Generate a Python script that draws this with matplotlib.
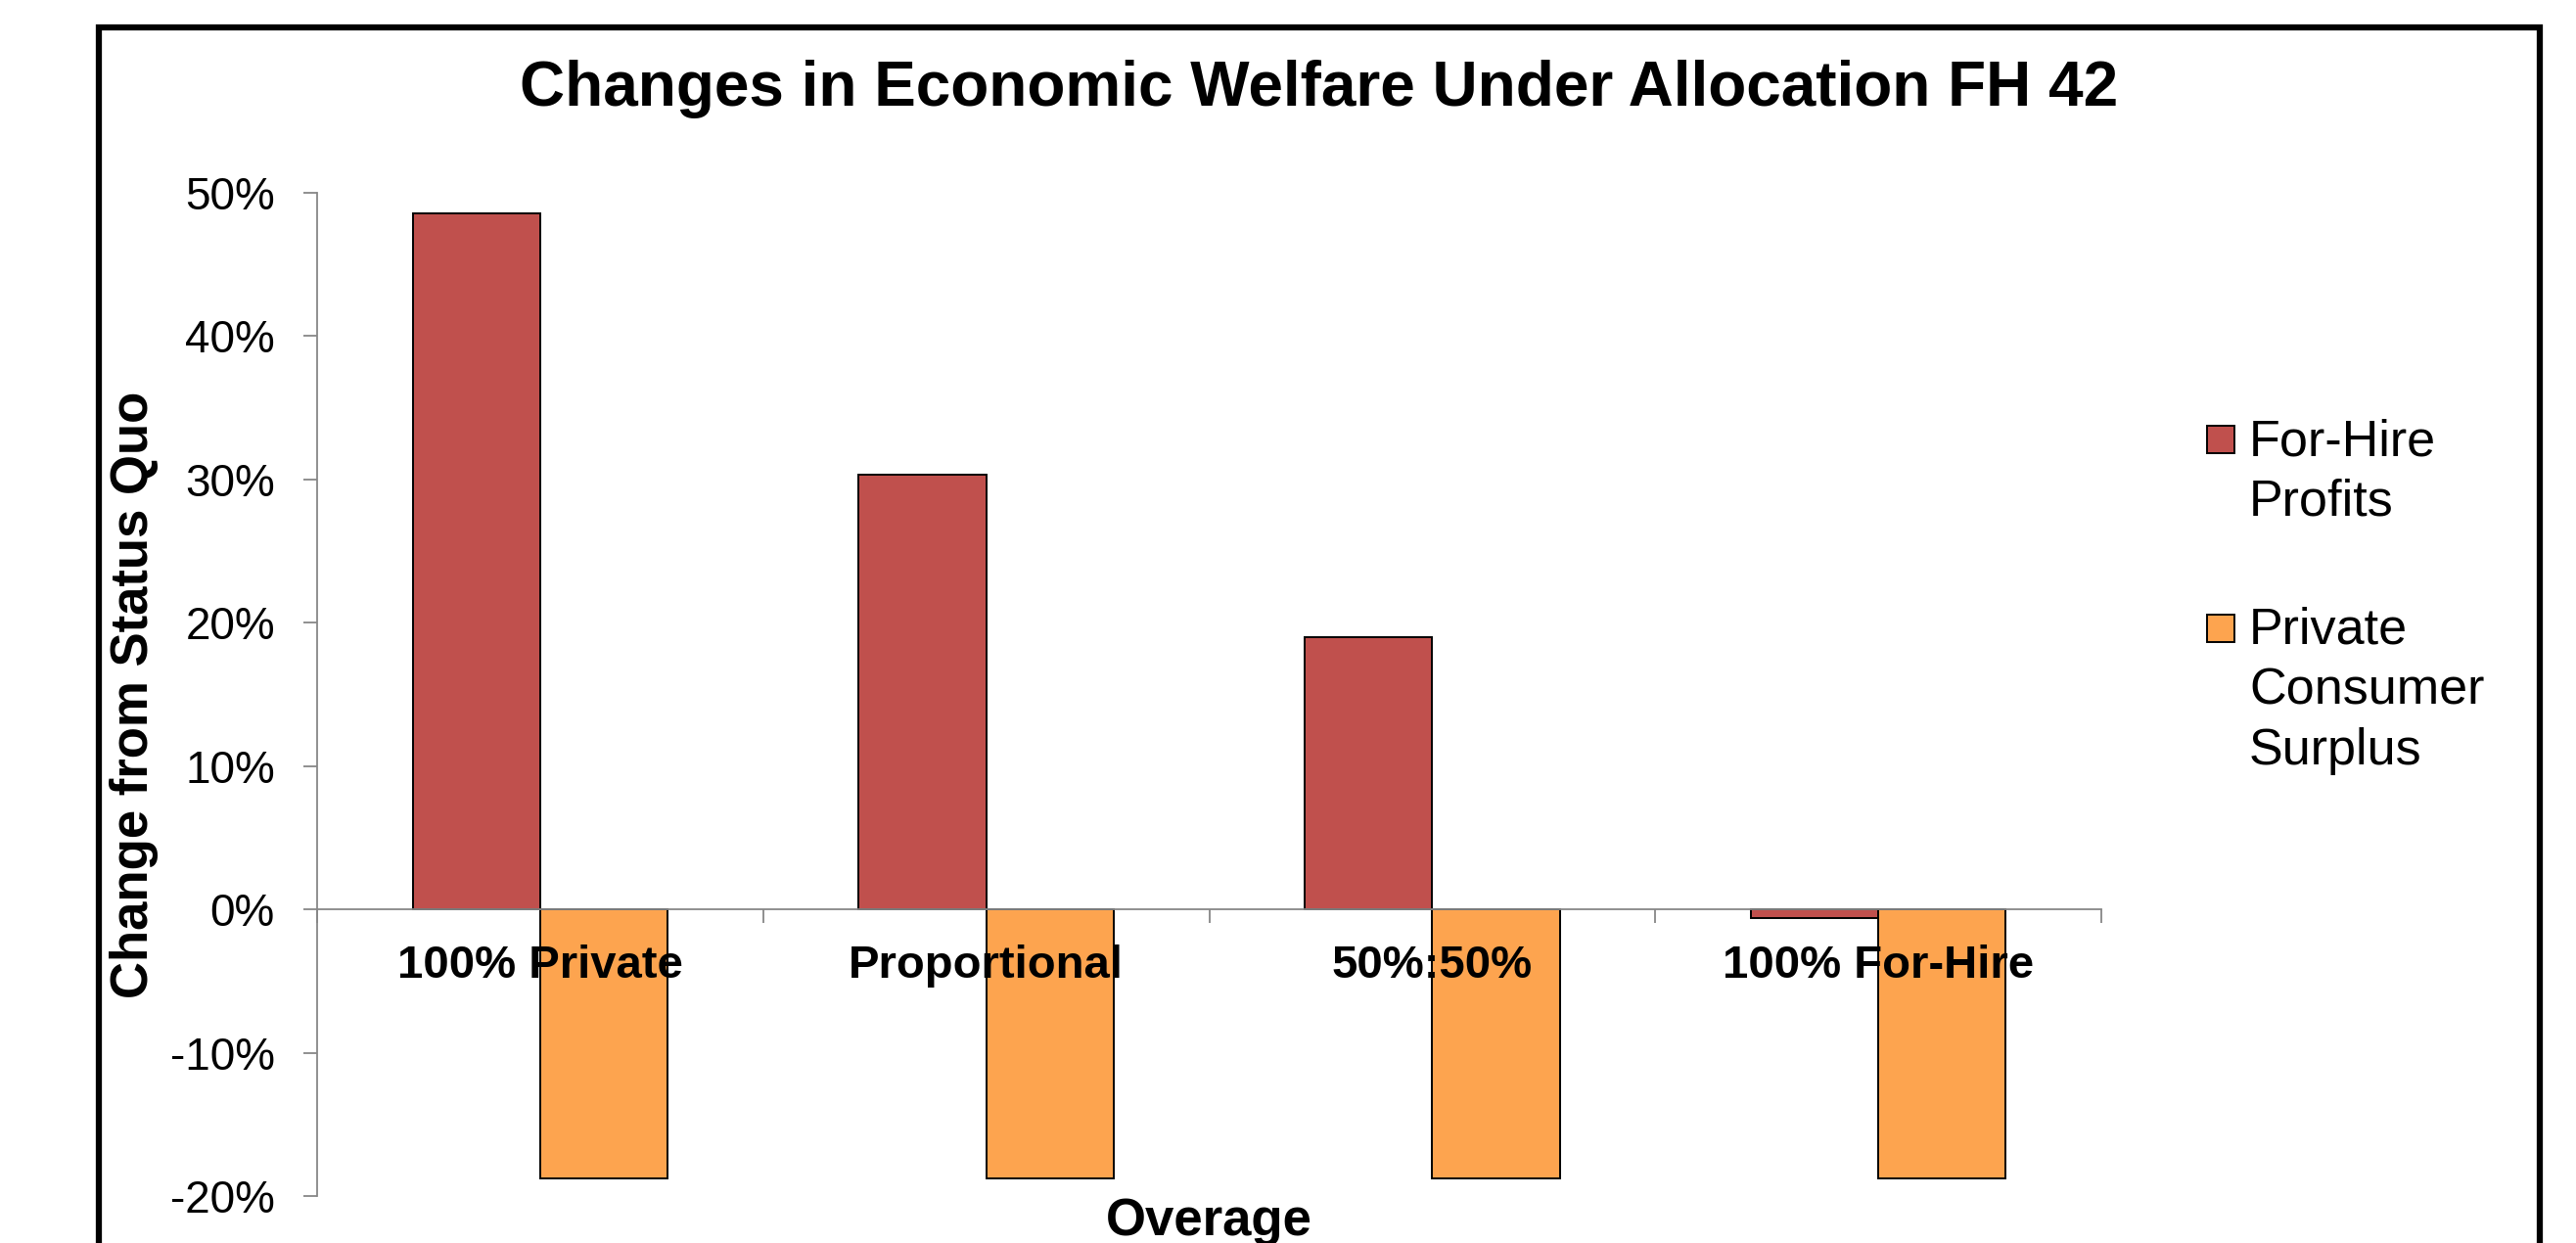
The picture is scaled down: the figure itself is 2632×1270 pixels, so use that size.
import numpy as np
import matplotlib

matplotlib.use('agg')
import matplotlib.pyplot as plt
from matplotlib.patches import Rectangle
from matplotlib.ticker import FuncFormatter, FixedLocator

plt.rcParams['font.family'] = ['Liberation Sans', 'DejaVu Sans']

# allocation scenarios and % change from status quo
categories = ['100% Private', 'Proportional', '50%:50%', '100% For-Hire']
forhire_profits = [48.6, 30.3, 19.0, -0.6]
consumer_surplus = [-18.8, -18.8, -18.8, -18.8]
series_names = ['For-Hire\nProfits', 'Private\nConsumer\nSurplus']
series_colors = ['#C0504D', '#FDA44F']
yticks = [-20, -10, 0, 10, 20, 30, 40, 50]

W, H = 2632, 1270
fig = plt.figure(figsize=(W / 100, H / 100), dpi=100)


def fx(px):
    return px / W


def fy(py):
    return 1 - py / H


# chart area frame, runs off the bottom edge
frame = Rectangle((fx(101), fy(1400)), fx(2595) - fx(101), fy(28) - fy(1400),
                  transform=fig.transFigure, fill=False, lw=4.5, ec='black', zorder=0)
fig.patches.append(frame)

ax = fig.add_axes([fx(324), fy(1222), fx(2147) - fx(324), fy(197) - fy(1222)])

x = np.arange(len(categories))
w = 1 / 3.5
ax.bar(x - w / 2, forhire_profits, w, color=series_colors[0], edgecolor='black', linewidth=1.4)
ax.bar(x + w / 2, consumer_surplus, w, color=series_colors[1], edgecolor='black', linewidth=1.4)

ax.set_xlim(-0.5, len(categories) - 0.5)
ax.set_ylim(-20, 50)

axis_grey = '#878787'
for s in ['top', 'right']:
    ax.spines[s].set_visible(False)
ax.spines['bottom'].set_position(('data', 0))
for s in ['left', 'bottom']:
    ax.spines[s].set_color(axis_grey)
    ax.spines[s].set_linewidth(1.3)

ax.set_yticks(yticks)
ax.yaxis.set_major_formatter(FuncFormatter(lambda v, p: f'{v:.0f}%'))
ax.tick_params(axis='y', direction='out', length=10, width=1.3, color=axis_grey,
               labelsize=33, pad=21)

ax.set_xticks(x)
ax.set_xticklabels(categories, fontsize=34, fontweight='bold')
ax.xaxis.set_minor_locator(FixedLocator(np.arange(-0.5, len(categories), 1.0)))
ax.tick_params(axis='x', which='major', length=0, pad=26)
ax.tick_params(axis='x', which='minor', direction='out', length=10, width=1.3, color=axis_grey)

ax.set_xlabel('Overage', fontsize=38, fontweight='bold', va='baseline')
ax.xaxis.set_label_coords(0.5, (1222 - 1262) / 1025)
ax.set_ylabel('Change from Status Quo', fontsize=38, fontweight='bold')
ax.yaxis.set_label_coords((162 - 324) / 1823, 0.5)

fig.text(fx(1348), fy(108), 'Changes in Economic Welfare Under Allocation FH 42',
         ha='center', va='baseline', fontsize=46, fontweight='bold')

# legend drawn by hand so the swatch sits on the first line of each label
first_baselines = [465, 658]
line_step = 61.5
for name, col, base in zip(series_names, series_colors, first_baselines):
    top = base - 30
    sw = Rectangle((fx(2255), fy(top + 28)), fx(28), 28 / H, transform=fig.transFigure,
                   fc=col, ec='black', lw=1.4)
    fig.patches.append(sw)
    for i, line in enumerate(name.split('\n')):
        fig.text(fx(2298), fy(base + i * line_step), line, ha='left', va='baseline',
                 fontsize=37.5)

fig.savefig('out.png', dpi=100)
